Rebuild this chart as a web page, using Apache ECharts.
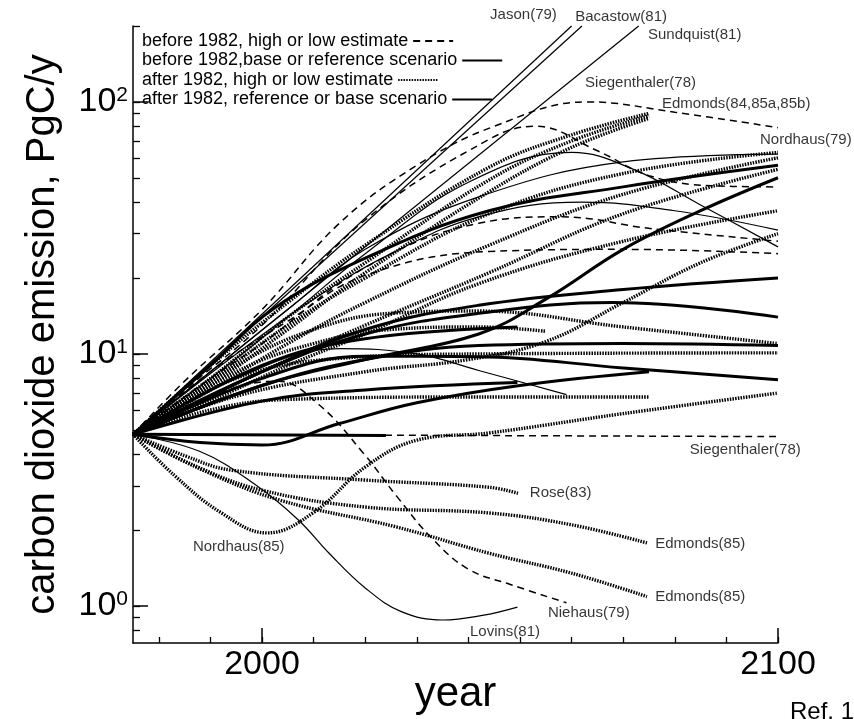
<!DOCTYPE html>
<html><head><meta charset="utf-8">
<script src="https://cdn.jsdelivr.net/npm/echarts@6/dist/echarts.min.js"></script>
<style>html,body{margin:0;padding:0;background:#fff}#c{width:854px;height:719px}</style>
</head><body><div id="c"></div>
<script>
// ---------- DATA: [year, PgC/y] ----------
// before 1982, high or low estimate (dashed)
const siegenthaler78High = [[1975,4.8],[1985,7.8],[2000,15],[2015,33],[2030,56],[2045,80],[2063,100],[2080,91],[2100,79]];
const dashedHigh2 = [[1975,4.8],[1985,7.2],[2000,13],[2020,34],[2044,71],[2053,80],[2065,64],[2075,51],[2087,46.5],[2100,46]];
const dashedMid1 = [[1975,4.8],[1990,8],[2000,11],[2020,22],[2042,33],[2058,35],[2075,31.5],[2100,28]];
const dashedMid2 = [[1975,4.8],[1990,8.5],[2005,13.5],[2020,20.5],[2044,25.5],[2070,26],[2100,25]];
const niehaus79 = [[1975,4.8],[1990,6.8],[2003,7.8],[2011,6.3],[2019.6,4.05],[2026.2,2.71],[2033,1.85],[2040,1.4],[2048,1.22],[2059,1.03]];
const siegenthaler78Low = [[1975,4.8],[2100,4.7]];

// before 1982, base or reference scenario (thin solid)
const jason79 = [[1975,4.8],[2060,200]];
const bacastow81 = [[1975,4.8],[2062,200]];
const sundquist81 = [[1975,4.8],[2073,200]];
const nordhaus79 = [[1975,4.8],[1990,8.5],[2005,15],[2020,26],[2042,42],[2070,57.8],[2100,62]];
const thinPeak = [[1975,4.8],[1990,8],[2005,14],[2020,25],[2040,48],[2060,63],[2072,54],[2085,39],[2100,26.6]];
const thinMid = [[1975,4.8],[1995,10],[2010,16.5],[2025,25],[2042,35],[2062,40],[2080,37],[2100,31]];
const thinShort = [[1975,4.8],[1995,8],[2015,10.5],[2030,10],[2042,8.6],[2059,6.9]];
const lovins81 = [[1975,4.8],[1988,4.1],[1999,3.0],[2007,2.2],[2013,1.62],[2020,1.18],[2027,0.95],[2035,0.88],[2043,0.92],[2049.5,0.99]];

// after 1982, high or low estimate (dotted)
const edmonds84 = [[1975,4.8],[1990,9],[2005,16],[2020,27],[2044,55],[2060,74],[2075,90]];
const edmonds85a = [[1975,4.8],[1990,8],[2005,14],[2020,23],[2044,49],[2060,70],[2075,88]];
const edmonds85b = [[1975,4.8],[1990,7.5],[2005,12.5],[2020,21],[2044,44],[2060,66],[2075,86]];
const dotted63 = [[1975,4.8],[1990,7.8],[2005,13],[2020,20],[2044,36],[2070,52],[2100,63]];
const dotted60 = [[1975,4.8],[1990,7.2],[2005,11],[2020,16],[2044,27],[2070,43],[2100,60]];
const dotted54 = [[1975,4.8],[1990,6.8],[2005,9.5],[2020,13],[2044,21],[2070,36],[2100,54]];
const dotted37 = [[1975,4.8],[1990,6.5],[2005,9],[2020,12],[2042,19],[2070,28],[2100,37]];
const dotted30 = [[1975,4.8],[1995,6.8],[2020,8.5],[2040,9.5],[2055,11.2],[2070,16],[2085,23],[2100,30]];
const dotted11 = [[1975,4.8],[1995,9],[2010,12.5],[2025,14.5],[2042,14.8],[2070,12.8],[2100,11]];
const dotted10 = [[1975,4.8],[1995,8],[2015,9.6],[2042,10],[2100,10.1]];
const dotted7 = [[1975,4.8],[1990,6],[2005,6.6],[2042,6.75],[2075,6.75]];
const dotted12 = [[1975,4.8],[1995,8.5],[2010,11],[2025,12.5],[2042,12.8],[2055,12.3]];
const nordhaus85 = [[1975,4.8],[1983,3.3],[1992,2.35],[2001,1.95],[2010,2.35],[2020,3.56],[2030,4.55],[2044,4.86],[2070,5.8],[2100,7.0]];
const rose83 = [[1975,4.8],[1985,3.95],[1994,3.46],[2020,3.16],[2044,2.96],[2049.6,2.8]];
const edmonds85Upper = [[1975,4.8],[1987,3.6],[2000,2.88],[2020,2.47],[2044,2.34],[2060,2.1],[2074.6,1.78]];
const edmonds85Lower = [[1975,4.8],[1988,3.5],[2003.5,2.63],[2026,2.06],[2044,1.62],[2060,1.35],[2074.6,1.09]];

// after 1982, reference or base scenario (thick solid)
const ref50 = [[1975,4.8],[2000,7.5],[2020,9.5],[2042,12],[2055,16.5],[2070,26],[2085,37],[2100,50]];
const ref20 = [[1975,4.8],[2000,8.5],[2020,12.5],[2042,15.6],[2070,18],[2100,20]];
const ref14 = [[1975,4.8],[2000,8.5],[2020,12],[2042,14.5],[2068,16],[2100,14]];
const ref11 = [[1975,4.8],[2000,7.5],[2020,9.5],[2042,10.8],[2070,11],[2100,10.8]];
const ref8 = [[1975,4.8],[2000,8],[2020,9.8],[2042,9.75],[2070,8.8],[2100,7.9]];
const refDip = [[1975,4.8],[1988,4.45],[2000,4.35],[2015,5.3],[2030,6.4],[2050,7.5],[2075,8.5]];
const refFlat = [[1975,4.8],[2024,4.75]];
const ref13Short = [[1975,4.8],[2000,9],[2020,11.5],[2049.5,12.8]];
const ref8Short = [[1975,4.8],[2000,6.5],[2020,7.2],[2049.5,7.7]];
const ref56 = [[1975,4.8],[1990,9],[2002,15],[2020,24],[2044,37],[2070,46],[2100,56]];

// curve labels: [text, year, value]
const curveLabels = [
  ['Jason(79)', 2044.2, 221], ['Bacastow(81)', 2060.7, 217], ['Sundquist(81)', 2074.8, 184],
  ['Siegenthaler(78)', 2062.6, 119], ['Edmonds(84,85a,85b)', 2077.5, 98], ['Nordhaus(79)', 2096.5, 70.7],
  ['Siegenthaler(78)', 2082.9, 4.16], ['Rose(83)', 2051.9, 2.81], ['Edmonds(85)', 2076.2, 1.76],
  ['Edmonds(85)', 2076.2, 1.085], ['Niehaus(79)', 2055.4, 0.938], ['Lovins(81)', 2040.3, 0.789],
  ['Nordhaus(85)', 1986.6, 1.715]
];

const categoryNames = ['before 1982, high or low estimate', 'before 1982,base or reference scenario', 'after 1982, high or low estimate', 'after 1982, reference or base scenario'];
const before1982High = [siegenthaler78High, dashedHigh2, dashedMid1, dashedMid2, niehaus79, siegenthaler78Low];
const before1982Base = [jason79, bacastow81, sundquist81, nordhaus79, thinPeak, thinMid, thinShort, lovins81];
const after1982High = [edmonds84, edmonds85a, edmonds85b, dotted63, dotted60, dotted54, dotted37, dotted30, dotted11, dotted10, dotted7, dotted12, nordhaus85, rose83, edmonds85Upper, edmonds85Lower];
const after1982Base = [ref50, ref20, ref14, ref11, ref8, refDip, refFlat, ref13Short, ref8Short, ref56];

const xMinorTicks = [1980,1990,2000,2010,2020,2030,2040,2050,2060,2070,2080,2090,2100];
const xMajorTicks = [2000, 2100];
const yMinorTicks = [0.8,0.9,1,2,3,4,5,6,7,8,9,10,20,30,40,50,60,70,80,90,100,200];
const yMajorTicks = [1, 10, 100];

// ---------- CHART ----------
const F = '"Liberation Sans", Arial, Helvetica, sans-serif';
const styles = [
  {type: [7, 5], width: 1.5},
  {type: 'solid', width: 1.2},
  {type: [1.5, 1.2], width: 3.4},
  {type: 'solid', width: 3}
];
const groups = [before1982High, before1982Base, after1982High, after1982Base];
const series = [];
groups.forEach((g, gi) => {
  g.forEach(d => {
    series.push({
      type: 'line', name: categoryNames[gi], data: d, symbol: 'none', smooth: 0.4,
      clip: false, silent: true, itemStyle: {color: '#000'},
      lineStyle: Object.assign({color: '#000', cap: 'butt'}, styles[gi])
    });
  });
});
series.push({
  type: 'scatter', name: 'labels', symbolSize: 0.1, clip: false, silent: true,
  itemStyle: {color: 'transparent'},
  data: curveLabels.map(l => ({name: l[0], value: [l[1], l[2]]})),
  label: {show: true, position: 'right', distance: 0, formatter: p => p.name,
    fontFamily: F, fontSize: 15, color: '#000'}
});

const legends = categoryNames.map((n, i) => ({
  data: [n], left: 142, top: 32 + i * 19.5, align: 'right', orient: 'horizontal',
  itemWidth: 40, itemHeight: 10, selectedMode: false, padding: 0,
  itemStyle: {color: 'transparent', borderColor: 'transparent', borderWidth: 0},
  textStyle: {fontFamily: F, fontSize: 18, color: '#000'}
}));

const chart = echarts.init(document.getElementById('c'));
chart.setOption({
  animation: false,
  backgroundColor: '#fff',
  grid: {left: 133, right: 76, top: 26, bottom: 76, containLabel: false, outerBoundsMode: 'none'},
  legend: legends,
  xAxis: [
    {type: 'value', min: 1975, max: 2100, splitLine: {show: false},
     axisLine: {lineStyle: {color: '#000', width: 1.5}},
     axisTick: {inside: true, length: 6, customValues: xMinorTicks, lineStyle: {color: '#000', width: 1.3}},
     axisLabel: {show: false}},
    {type: 'value', min: 1975, max: 2100, position: 'bottom', splitLine: {show: false},
     axisLine: {show: false},
     axisTick: {inside: true, length: 15, customValues: xMajorTicks, lineStyle: {color: '#000', width: 1.5}},
     axisLabel: {customValues: xMajorTicks, formatter: v => String(v), fontFamily: F, fontSize: 34, color: '#000', margin: 5},
     name: 'year', nameLocation: 'middle', nameGap: 30, nameMoveOverlap: false,
     nameTextStyle: {fontFamily: F, fontSize: 42, color: '#000'}}
  ],
  yAxis: [
    {type: 'log', logBase: 10, min: 0.7134, max: 200, splitLine: {show: false},
     axisLine: {lineStyle: {color: '#000', width: 1.5}},
     axisTick: {inside: true, length: 7, customValues: yMinorTicks, lineStyle: {color: '#000', width: 1.3}},
     axisLabel: {show: false}},
    {type: 'log', logBase: 10, min: 0.7134, max: 200, position: 'left', splitLine: {show: false},
     axisLine: {show: false},
     axisTick: {inside: true, length: 15, customValues: yMajorTicks, lineStyle: {color: '#000', width: 1.5}},
     axisLabel: {customValues: yMajorTicks, margin: 5,
       formatter: v => '{b|10}{s|' + Math.round(Math.log10(v)) + '}',
       rich: {b: {fontFamily: F, fontSize: 34, color: '#000'},
              s: {fontFamily: F, fontSize: 21, color: '#000', verticalAlign: 'top'}}},
     name: 'carbon dioxide emission, PgC/y', nameLocation: 'middle', nameGap: 70, nameMoveOverlap: false,
     nameTextStyle: {fontFamily: F, fontSize: 40, color: '#000'}}
  ],
  graphic: [{type: 'text', left: 790, top: 700, style: {text: 'Ref. 1', font: '24px ' + F, fill: '#000'}}],
  series: series
});
</script></body></html>
